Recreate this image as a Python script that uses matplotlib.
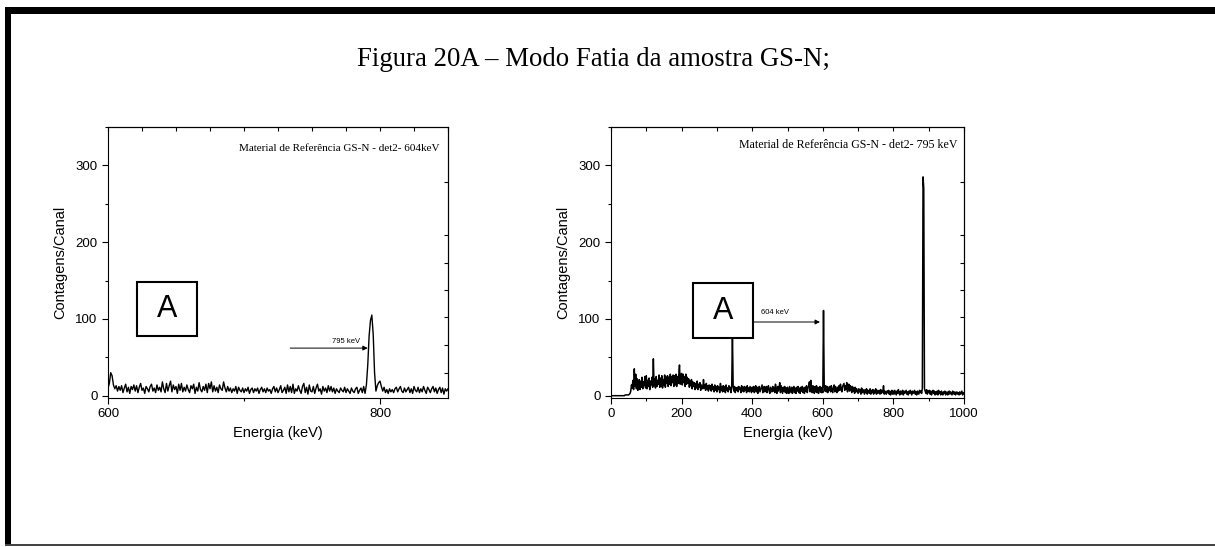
import numpy as np
import matplotlib
matplotlib.use("Agg")
import matplotlib.pyplot as plt
from matplotlib.patches import Rectangle
from matplotlib.ticker import MultipleLocator, FixedLocator, NullFormatter

plt.rcParams['font.family'] = ['Liberation Sans', 'DejaVu Sans']

TITLE = "Figura 20A \u2013 Modo Fatia da amostra GS-N;"

# spectrum gated at 604 keV, 1 keV per channel from 600 keV
start_604 = 600
counts_604 = [
    10, 16, 30, 26, 14, 9, 13, 6, 12, 7,
    13, 4, 10, 15, 5, 11, 3, 12, 8, 14,
    6, 13, 4, 11, 16, 7, 10, 3, 12, 9,
    5, 12, 15, 6, 10, 4, 14, 7, 11, 5,
    18, 9, 4, 16, 6, 13, 19, 5, 14, 8,
    12, 3, 15, 7, 16, 5, 11, 6, 14, 8,
    4, 13, 9, 15, 3, 11, 6, 17, 8, 5,
    12, 7, 15, 4, 16, 9, 18, 5, 13, 6,
    11, 4, 14, 9, 7, 18, 10, 5, 12, 6,
    10, 4, 9, 6, 12, 3, 11, 7, 5, 10,
    4, 9, 6, 11, 3, 8, 10, 4, 9, 6,
    10, 3, 8, 11, 5, 9, 4, 10, 6, 8,
    3, 9, 12, 5, 10, 4, 8, 13, 4, 7,
    11, 3, 14, 5, 12, 4, 15, 3, 9, 6,
    13, 7, 3, 12, 16, 4, 11, 2, 14, 6,
    5, 12, 3, 10, 15, 6, 9, 2, 12, 6,
    10, 4, 13, 6, 12, 5, 10, 3, 9, 6,
    4, 10, 7, 5, 11, 4, 9, 6, 3, 10,
    6, 4, 9, 11, 3, 7, 10, 4, 12, 3,
    14, 40, 78, 98, 105, 80, 30, 6, 13, 17,
    19, 12, 6, 11, 4, 8, 3, 9, 5, 8,
    4, 9, 11, 5, 9, 12, 6, 4, 10, 5,
    8, 11, 4, 9, 3, 12, 7, 5, 11, 4,
    9, 5, 12, 7, 3, 11, 8, 4, 9, 12,
    5, 10, 3, 8, 11, 4, 10, 2, 9, 6,
    9,
]

# spectrum gated at 795 keV, 2 keV per point from 0 keV
step_795 = 2
counts_795 = [
    0, 0, 0, 0, 0, 0, 0, 0, 0, 0,
    0, 0, 0, 0, 0, 0, 0, 0, 0, 0,
    1, 1, 1, 1, 1, 1, 2, 3, 6, 14,
    10, 20, 8, 35, 12, 28, 9, 22, 7, 18,
    21, 8, 19, 11, 24, 9, 18, 13, 25, 10,
    26, 9, 20, 12, 23, 8, 19, 14, 24, 11,
    48, 13, 22, 10, 25, 12, 20, 15, 27, 11,
    23, 12, 26, 10, 21, 14, 27, 11, 24, 16,
    26, 12, 24, 15, 28, 13, 25, 17, 27, 12,
    26, 14, 28, 12, 25, 16, 27, 40, 15, 26,
    29, 14, 28, 17, 25, 12, 28, 15, 24, 16,
    22, 11, 19, 13, 21, 9, 18, 12, 17, 8,
    16, 10, 19, 8, 15, 11, 17, 7, 14, 12,
    9, 21, 10, 14, 7, 16, 9, 13, 6, 14,
    9, 13, 6, 15, 8, 12, 5, 14, 7, 12,
    5, 13, 8, 11, 4, 16, 7, 12, 5, 13,
    6, 12, 4, 14, 7, 10, 5, 13, 8, 11,
    4, 12, 82, 13, 6, 12, 4, 10, 7, 11,
    5, 12, 8, 10, 4, 13, 6, 11, 5, 12,
    7, 11, 4, 13, 6, 10, 5, 12, 8, 4,
    11, 6, 12, 4, 10, 13, 5, 11, 3, 10,
    12, 5, 8, 11, 14, 4, 9, 12, 5, 10,
    12, 4, 10, 13, 6, 3, 11, 8, 5, 12,
    6, 11, 4, 15, 7, 3, 12, 6, 10, 17,
    4, 13, 8, 3, 11, 6, 12, 4, 10, 3,
    11, 6, 3, 12, 8, 4, 11, 3, 9, 12,
    4, 10, 3, 11, 6, 12, 4, 10, 3, 11,
    6, 12, 4, 10, 3, 11, 6, 13, 4, 10,
    12, 18, 5, 20, 9, 4, 13, 7, 3, 12,
    5, 13, 4, 11, 3, 10, 12, 5, 4, 11,
    4, 111, 13, 6, 13, 5, 12, 4, 11, 7,
    12, 5, 13, 7, 4, 11, 14, 5, 12, 7,
    4, 11, 6, 13, 7, 15, 9, 5, 12, 14,
    16, 7, 13, 8, 17, 5, 12, 15, 6, 13,
    11, 4, 12, 6, 10, 3, 11, 5, 9, 6,
    3, 9, 5, 8, 2, 10, 4, 8, 5, 2,
    8, 4, 9, 2, 7, 6, 3, 9, 2, 7,
    4, 8, 2, 7, 4, 9, 2, 7, 3, 6,
    7, 2, 8, 3, 6, 5, 13, 2, 6, 3,
    2, 6, 4, 7, 2, 6, 1, 5, 7, 2,
    6, 2, 7, 4, 1, 6, 3, 8, 4, 1,
    6, 2, 5, 7, 1, 6, 3, 5, 7, 2,
    5, 1, 6, 3, 7, 4, 1, 6, 3, 5,
    7, 2, 5, 1, 6, 4, 2, 7, 4, 6,
    3, 10, 285, 270, 9, 6, 3, 8, 2, 6,
    4, 7, 2, 6, 1, 5, 7, 3, 6, 1,
    5, 2, 6, 1, 7, 3, 5, 1, 6, 3,
    1, 5, 3, 6, 1, 4, 5, 1, 3, 6,
    2, 5, 3, 1, 6, 3, 2, 5, 1, 4,
    5, 2, 4, 1, 5, 2, 4, 6, 1, 4,
    3,
]

energy_604 = start_604 + np.arange(len(counts_604))
energy_795 = step_795 * np.arange(len(counts_795))

panels = [
    dict(x=energy_604, y=counts_604, xlim=(600, 850), xmajor=200, xminor=100, top_step=25,
         lw=1.0, label="Material de Refer\u00eancia GS-N - det2- 604keV", label_xy=(844, 322),
         label_size=8,
         arrow_from=(734, 62), arrow_to=(791, 62), arrow_text="795 keV", arrow_text_xy=(775, 71),
         box=(0.085, 0.229, 0.177, 0.199), pos=[108, 127, 340, 271]),
    dict(x=energy_795, y=counts_795, xlim=(0, 1000), xmajor=200, xminor=100, top_step=100,
         lw=1.1, label="Material de Refer\u00eancia GS-N - det2- 795 keV", label_xy=(983, 326),
         label_size=8.6,
         arrow_from=(402, 96), arrow_to=(592, 96), arrow_text="604 keV", arrow_text_xy=(465, 108),
         box=(0.232, 0.221, 0.170, 0.203), pos=[611, 127, 353, 271]),
]

W, H = 1215, 547
fig = plt.figure(figsize=(W / 100, H / 100), dpi=100)

# page frame
fig.add_artist(Rectangle((5 / W, 1 - 14 / H), 1 - 5 / W, 7 / H, transform=fig.transFigure,
                         color='black', lw=0))
fig.add_artist(Rectangle((5 / W, 2 / H), 6 / W, 1 - 16 / H, transform=fig.transFigure,
                         color='black', lw=0))
fig.add_artist(Rectangle((5 / W, 1 / H), 1 - 5 / W, 2 / H, transform=fig.transFigure,
                         color='#444444', lw=0))

fig.text(593 / W, 1 - 60 / H, TITLE, ha='center', va='center', fontsize=19.3,
         family=['Liberation Serif', 'DejaVu Serif'])

for p in panels:
    l, t, w, h = p['pos']
    ax = fig.add_axes([l / W, 1 - (t + h) / H, w / W, h / H])
    ax.plot(p['x'], p['y'], color='black', lw=p['lw'])
    ax.set_xlim(*p['xlim'])
    ax.set_ylim(-3, 350)

    ax.xaxis.set_major_locator(MultipleLocator(p['xmajor']))
    ax.xaxis.set_minor_locator(MultipleLocator(p['xminor']))
    ax.yaxis.set_major_locator(MultipleLocator(100))
    ax.yaxis.set_minor_locator(MultipleLocator(50))
    ax.tick_params(which='major', direction='out', length=4, width=0.8, labelsize=9.5)
    ax.tick_params(which='minor', direction='out', length=2.5, width=0.8)
    ax.set_yticks([0, 100, 200, 300])
    for s in ax.spines.values():
        s.set_linewidth(0.8)

    top = ax.secondary_xaxis('top')
    top.xaxis.set_major_locator(MultipleLocator(p['top_step']))
    top.xaxis.set_major_formatter(NullFormatter())
    top.tick_params(direction='in', length=3, width=0.8)

    right = ax.secondary_yaxis('right')
    right.yaxis.set_major_locator(FixedLocator([30, 66, 102, 138, 173, 209, 279]))
    right.yaxis.set_major_formatter(NullFormatter())
    right.tick_params(direction='in', length=3, width=0.8)

    ax.set_xlabel("Energia (keV)", fontsize=10.5, labelpad=4)
    ax.set_ylabel("Contagens/Canal", fontsize=10.5, labelpad=6)

    ax.text(*p['label_xy'], p['label'], ha='right', va='center', fontsize=p['label_size'],
            family=['Liberation Serif', 'DejaVu Serif'])

    ax.annotate("", xy=p['arrow_to'], xytext=p['arrow_from'],
                arrowprops=dict(arrowstyle='-|>', color='black', lw=0.7,
                                mutation_scale=7, shrinkA=0, shrinkB=0))
    ax.text(*p['arrow_text_xy'], p['arrow_text'], ha='center', va='center', fontsize=5.5)

    bx, by, bw, bh = p['box']
    ax.add_patch(Rectangle((bx, by), bw, bh, transform=ax.transAxes, facecolor='white',
                           edgecolor='black', lw=1.5, zorder=5))
    ax.text(bx + bw / 2, by + bh / 2, "A", transform=ax.transAxes, ha='center',
            va='center', fontsize=22, zorder=6)

fig.savefig("out.png", dpi=100)
